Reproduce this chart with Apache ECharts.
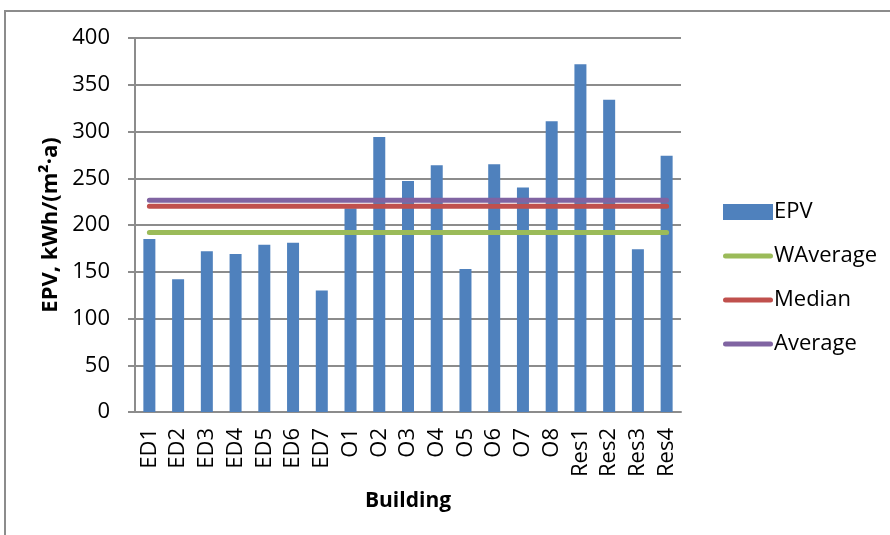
<!DOCTYPE html>
<html>
<head>
<meta charset="utf-8">
<script src="https://cdn.jsdelivr.net/npm/echarts@6/dist/echarts.min.js"></script>
<style>
  html, body { margin: 0; padding: 0; background: #fff; }
  #main { width: 890px; height: 535px; }
</style>
</head>
<body>
<div id="main"></div>
<script>
// data
const buildings = ['ED1', 'ED2', 'ED3', 'ED4', 'ED5', 'ED6', 'ED7', 'O1', 'O2', 'O3', 'O4', 'O5', 'O6', 'O7', 'O8', 'Res1', 'Res2', 'Res3', 'Res4']
const epv = [185, 142, 172, 169, 179, 181, 130, 218, 294, 247, 264, 153, 265, 240, 311, 372, 334, 174, 274]
const wAverage = 192
const median = 220
const average = 226.5

const font = 'Open Sans'
// thin rounded bar used as the legend mark of the line series
const lineIcon = 'path://M2.5,0 H47.5 A2.5,2.5 0 0 1 47.5,5 H2.5 A2.5,2.5 0 0 1 2.5,0 Z'
const chart = echarts.init(document.getElementById('main'))

chart.setOption({
  animation: false,
  textStyle: { fontFamily: font },
  // outer frame like the excel chart area
  graphic: [{
    type: 'rect',
    shape: { x: 5, y: 11, width: 900, height: 540 },
    style: { fill: 'none', stroke: '#8c8c8c', lineWidth: 2 }
  }],
  grid: { left: 135, right: 209, top: 38, bottom: 123 },
  legend: {
    orient: 'vertical',
    left: 718,
    top: 196,
    itemGap: 22,
    itemWidth: 50,
    itemHeight: 16,
    textStyle: { fontSize: 22, color: '#000', fontFamily: font, padding: [0, 0, 0, -4] },
    data: [
      { name: 'EPV', icon: 'rect' },
      { name: 'WAverage', icon: lineIcon },
      { name: 'Median', icon: lineIcon },
      { name: 'Average', icon: lineIcon }
    ]
  },
  xAxis: {
    type: 'category',
    data: buildings,
    name: 'Building',
    nameLocation: 'middle',
    nameGap: 79,
    nameTextStyle: { fontSize: 21, fontWeight: 'bold', color: '#000' },
    axisLine: { lineStyle: { color: '#8c8c8c', width: 2 } },
    axisTick: { show: false },
    axisLabel: { rotate: 90, fontSize: 22, color: '#000', margin: 16 }
  },
  yAxis: {
    type: 'value',
    min: 0,
    max: 400,
    interval: 50,
    name: 'EPV, kWh/(m²·a)',
    nameLocation: 'middle',
    nameGap: 70,
    nameTextStyle: { fontSize: 22, fontWeight: 'bold', color: '#000' },
    axisLine: { show: true, lineStyle: { color: '#8c8c8c', width: 2 } },
    axisTick: { show: true, length: 7, lineStyle: { color: '#8c8c8c', width: 2 } },
    axisLabel: { fontSize: 22, color: '#000', margin: 25 },
    splitLine: { lineStyle: { color: '#8c8c8c', width: 2 } }
  },
  series: [
    {
      name: 'EPV',
      type: 'bar',
      data: epv,
      barWidth: 12,
      itemStyle: { color: '#4f81bd' }
    },
    {
      name: 'WAverage',
      type: 'line',
      data: buildings.map(() => wAverage),
      symbol: 'none',
      lineStyle: { color: '#9bbb59', width: 5, cap: 'round' },
      itemStyle: { color: '#9bbb59' }
    },
    {
      name: 'Median',
      type: 'line',
      data: buildings.map(() => median),
      symbol: 'none',
      lineStyle: { color: '#c0504d', width: 5, cap: 'round' },
      itemStyle: { color: '#c0504d' }
    },
    {
      name: 'Average',
      type: 'line',
      data: buildings.map(() => average),
      symbol: 'none',
      lineStyle: { color: '#8064a2', width: 5, cap: 'round' },
      itemStyle: { color: '#8064a2' }
    }
  ]
})
</script>
</body>
</html>
